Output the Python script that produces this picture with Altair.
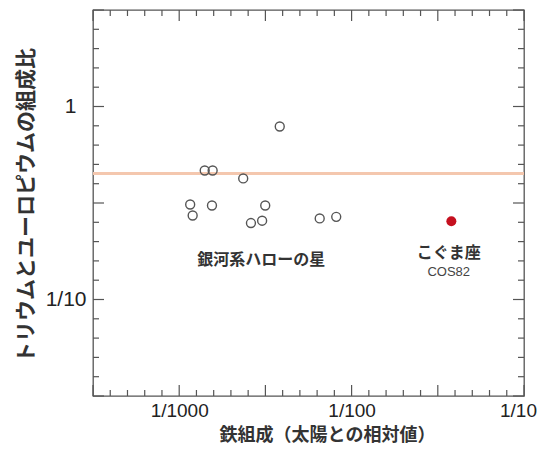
import altair as alt
import pandas as pd

# Galactic halo stars: iron abundance (relative to Sun) and Th/Eu ratio
halo_fe = [0.00383, 0.001406, 0.001563, 0.002351, 0.001158, 0.001197,
           0.001549, 0.003155, 0.002607, 0.003027, 0.006531, 0.008144]
halo_ratio = [0.788, 0.466, 0.466, 0.424, 0.3106, 0.2724,
              0.3069, 0.3069, 0.249, 0.256, 0.263, 0.268]

# Ursa Minor dwarf galaxy star COS82
umi_fe = [0.0379]
umi_ratio = [0.2545]

# horizontal reference level
ref_ratio = [0.45]

# annotations
cjk_names = ["銀河系ハローの星", "こぐま座"]
cjk_fe = [0.00299, 0.0366]
cjk_ratio = [0.160, 0.174]
star_name = ["COS82"]
star_fe = [0.0366]
star_ratio = [0.1396]

x_ticks_labels = [0.001, 0.01, 0.1]
y_ticks_labels = [0.1, 1]

halo_df = pd.DataFrame({"fe": halo_fe, "ratio": halo_ratio})
umi_df = pd.DataFrame({"fe": umi_fe, "ratio": umi_ratio})
ref_df = pd.DataFrame({"ratio": ref_ratio})
cjk_df = pd.DataFrame({"fe": cjk_fe, "ratio": cjk_ratio, "name": cjk_names})
star_df = pd.DataFrame({"fe": star_fe, "ratio": star_ratio, "name": star_name})

W, H = 431, 386
x_scale = alt.Scale(type="log", domain=[10 ** -3.5, 0.1], nice=False)
y_scale = alt.Scale(type="log", domain=[10 ** -1.5, 10 ** 0.5], nice=False)

# inward tick marks every 0.1 dex, longer ones every 0.5 dex
x_minor = [10 ** (k / 10) for k in range(-35, -9) if k % 5 != 0]
y_minor = [10 ** (k / 10) for k in range(-15, 6) if k % 5 != 0]
x_major = [10 ** (k / 10) for k in range(-35, -9) if k % 5 == 0]
y_major = [10 ** (k / 10) for k in range(-15, 6) if k % 5 == 0]
TC = "#555555"
MINOR, MAJOR = 6, 11


def x_tick_layer(values, size, at_top):
    df = pd.DataFrame({"v": values})
    y0 = 0 if at_top else H
    y1 = size if at_top else H - size
    return alt.Chart(df).mark_rule(color=TC, strokeWidth=1.2).encode(
        x=alt.X("v:Q", scale=x_scale, axis=None),
        y=alt.value(y0), y2=alt.value(y1))


def y_tick_layer(values, size, at_right):
    df = pd.DataFrame({"v": values})
    x0 = W if at_right else 0
    x1 = W - size if at_right else size
    return alt.Chart(df).mark_rule(color=TC, strokeWidth=1.2).encode(
        y=alt.Y("v:Q", scale=y_scale, axis=None),
        x=alt.value(x0), x2=alt.value(x1))


tick_layers = [
    x_tick_layer(x_minor, MINOR, False), x_tick_layer(x_minor, MINOR, True),
    x_tick_layer(x_major, MAJOR, False), x_tick_layer(x_major, MAJOR, True),
    y_tick_layer(y_minor, MINOR, False), y_tick_layer(y_minor, MINOR, True),
    y_tick_layer(y_major, MAJOR, False), y_tick_layer(y_major, MAJOR, True),
]

label_x_axis = alt.Axis(
    orient="bottom", values=x_ticks_labels, ticks=False, tickSize=0, domain=False,
    grid=False, labelExpr="'1/' + round(1/datum.value)", labelFlush=False,
    labelOverlap=False, labelPadding=5,
    labelOffset={"condition": {"test": "datum.value > 0.05", "value": -6}, "value": 0},
    labelFont="Liberation Sans", labelFontSize=19, labelColor="#222222",
    title="鉄組成（太陽との相対値）", titleFont="Noto Sans CJK JP",
    titleFontSize=18, titleFontWeight="bold", titleColor="#333333",
    titleX=234, titleY=39, titleAlign="center", titleBaseline="middle")

label_y_axis = alt.Axis(
    orient="left", values=y_ticks_labels, ticks=False, tickSize=0, domain=False,
    grid=False,
    labelExpr="datum.value > 0.5 ? '1' : '1/' + round(1/datum.value)",
    labelFlush=False, labelOverlap=False,
    labelPadding={"condition": {"test": "datum.value > 0.5", "value": 17}, "value": 7},
    labelFont="Liberation Sans", labelFontSize=21, labelColor="#222222",
    title="トリウムとユーロピウムの組成比", titleFont="Noto Sans CJK JP",
    titleFontSize=21, titleFontWeight="bold", titleColor="#333333",
    titleX=-67, titleY=195, titleAngle=-90, titleAlign="center",
    titleBaseline="middle")

# first layer carries the axes (its marks are transparent)
axis_carrier = alt.Chart(halo_df).mark_point(opacity=0).encode(
    x=alt.X("fe:Q", scale=x_scale, axis=label_x_axis),
    y=alt.Y("ratio:Q", scale=y_scale, axis=label_y_axis))

ref_line = alt.Chart(ref_df).mark_rule(color="#f4c7ae", strokeWidth=3).encode(
    y=alt.Y("ratio:Q", scale=y_scale, axis=None))

halo = alt.Chart(halo_df).mark_point(
    shape="circle", size=80, filled=False, color="#555555", strokeWidth=1.4,
    opacity=1).encode(
    x=alt.X("fe:Q", scale=x_scale, axis=None),
    y=alt.Y("ratio:Q", scale=y_scale, axis=None))

umi = alt.Chart(umi_df).mark_circle(size=100, color="#c5101f", opacity=1).encode(
    x=alt.X("fe:Q", scale=x_scale, axis=None),
    y=alt.Y("ratio:Q", scale=y_scale, axis=None))

cjk_text = alt.Chart(cjk_df).mark_text(
    font="Noto Sans CJK JP", fontSize=16, fontWeight="bold", color="#333333",
    baseline="middle", align="center").encode(
    x=alt.X("fe:Q", scale=x_scale, axis=None),
    y=alt.Y("ratio:Q", scale=y_scale, axis=None),
    text="name:N")

star_text = alt.Chart(star_df).mark_text(
    font="Liberation Sans", fontSize=13, color="#444444",
    baseline="middle", align="center").encode(
    x=alt.X("fe:Q", scale=x_scale, axis=None),
    y=alt.Y("ratio:Q", scale=y_scale, axis=None),
    text="name:N")

chart = alt.layer(axis_carrier, ref_line, *tick_layers, halo, umi, cjk_text,
                  star_text).resolve_axis(x="independent", y="independent").properties(
    width=W, height=H,
    padding={"left": 85, "top": 2, "right": 15, "bottom": 49},
    autosize=alt.AutoSizeParams(type="none"),
    background="white").configure_view(stroke="#555555", strokeWidth=1.3)

chart.save("out.html", embed_options={"renderer": "svg", "actions": False})
